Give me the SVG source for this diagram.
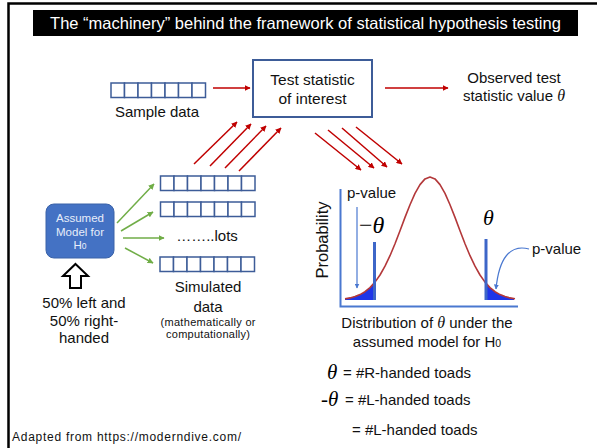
<svg xmlns="http://www.w3.org/2000/svg" width="597" height="448" viewBox="0 0 597 448">
<defs>
<style>
.t{font-family:"Liberation Sans",Arial,sans-serif;fill:#111}
.th{font-family:"Liberation Serif","Times New Roman",serif;font-style:italic}
.cell{fill:#fff;stroke:#3d5c98;stroke-width:1.5}
.red{stroke:#c00000;stroke-width:1.5;fill:none;marker-end:url(#ar)}
.grn{stroke:#70ad47;stroke-width:1.5;fill:none;marker-end:url(#ag)}
.blu{stroke:#4a78d0;stroke-width:1.2;fill:none;marker-end:url(#ab)}
</style>
<marker id="ar" viewBox="0 0 10 10" refX="9" refY="5" markerWidth="6" markerHeight="6" markerUnits="userSpaceOnUse" orient="auto"><path d="M0,0 L10,5 L0,10 Z" fill="#c00000"/></marker>
<marker id="ag" viewBox="0 0 10 10" refX="9" refY="5" markerWidth="6" markerHeight="6" markerUnits="userSpaceOnUse" orient="auto"><path d="M0,0 L10,5 L0,10 Z" fill="#70ad47"/></marker>
<marker id="ab" viewBox="0 0 10 10" refX="9" refY="5" markerWidth="5" markerHeight="5" markerUnits="userSpaceOnUse" orient="auto"><path d="M0,0 L10,5 L0,10 Z" fill="#4a78d0"/></marker>
<g id="arr7">
<rect class="cell" x="0" y="0" width="13.5" height="14.5"/>
<rect class="cell" x="13.5" y="0" width="13.5" height="14.5"/>
<rect class="cell" x="27" y="0" width="13.5" height="14.5"/>
<rect class="cell" x="40.5" y="0" width="13.5" height="14.5"/>
<rect class="cell" x="54" y="0" width="13.5" height="14.5"/>
<rect class="cell" x="67.5" y="0" width="13.5" height="14.5"/>
<rect class="cell" x="81" y="0" width="13.5" height="14.5"/>
</g>
</defs>
<rect width="597" height="448" fill="#fff"/>
<path d="M8.5,448 V3.5 H597" fill="none" stroke="#000" stroke-width="2.5"/>

<g id="title">
<rect x="33" y="10" width="545" height="26" fill="#000"/>
<text class="t" x="305.5" y="28.5" font-size="16.5" style="fill:#fff" text-anchor="middle">The “machinery” behind the framework of statistical hypothesis testing</text>
</g>

<g id="sample">
<use href="#arr7" x="111" y="83"/>
<text class="t" x="157" y="117" font-size="15" text-anchor="middle">Sample data</text>
</g>

<g id="teststat">
<rect x="253" y="60" width="119" height="57" fill="#fff" stroke="#3d5c98" stroke-width="2"/>
<text class="t" x="312.5" y="85" font-size="15.5" text-anchor="middle">Test statistic</text>
<text class="t" x="312.5" y="104" font-size="15.5" text-anchor="middle">of interest</text>
</g>

<g id="observed">
<text class="t" x="514" y="83" font-size="15" text-anchor="middle">Observed test</text>
<text class="t" x="514" y="101" font-size="15" text-anchor="middle">statistic value <tspan class="th" font-size="16">θ</tspan></text>
</g>

<g id="model">
<rect x="46" y="204" width="68" height="54" rx="8" fill="#4472c4" stroke="#3a62a8" stroke-width="1"/>
<text class="t" x="80" y="222" font-size="11.5" style="fill:#e8eefa" text-anchor="middle">Assumed</text>
<text class="t" x="80" y="235.5" font-size="11.5" style="fill:#e8eefa" text-anchor="middle">Model for</text>
<text class="t" x="80" y="249" font-size="11.5" style="fill:#e8eefa" text-anchor="middle">H<tspan font-size="8.5">0</tspan></text>
</g>

<g id="assumption">
<polygon points="75.5,264 88,276 81,276 81,288 70,288 70,276 63,276" fill="#fff" stroke="#000" stroke-width="2" stroke-linejoin="miter"/>
<text class="t" x="84" y="308" font-size="15" text-anchor="middle">50% left and</text>
<text class="t" x="84" y="326" font-size="15" text-anchor="middle">50% right-</text>
<text class="t" x="84" y="343" font-size="15" text-anchor="middle">handed</text>
</g>

<g id="simulated">
<use href="#arr7" x="160.5" y="176"/>
<use href="#arr7" x="160.5" y="202"/>
<text class="t" x="207" y="241" font-size="15" text-anchor="middle">……..lots</text>
<use href="#arr7" x="160" y="257"/>
<text class="t" x="208" y="292" font-size="15" text-anchor="middle">Simulated</text>
<text class="t" x="208" y="312" font-size="15" text-anchor="middle">data</text>
<text class="t" x="208" y="326" font-size="11" text-anchor="middle" textLength="95">(mathematically or</text>
<text class="t" x="208" y="338" font-size="11" text-anchor="middle" textLength="84">computationally)</text>
</g>

<g id="distribution">
<path d="M345,300 L345,298.8 350,297.9 355,296.6 360,294.6 365,291.7 370,287.6 374,283.4 L374,300 Z" fill="#1f35e8"/>
<path d="M486,300 L486,283.4 490,287.6 495,291.7 500,294.6 505,296.6 510,297.9 514,298.8 L514,300 Z" fill="#1f35e8"/>
<polyline fill="none" stroke="#b3383a" stroke-width="1.6" stroke-linejoin="round" points="345,298.8 350,297.9 355,296.6 360,294.6 365,291.7 370,287.6 375,282.1 380,275 385,266.2 390,255.7 395,243.7 400,230.7 405,217.4 410,204.7 415,193.4 420,184.6 425,178.9 430,177 435,178.9 440,184.6 445,193.4 450,204.7 455,217.4 460,230.7 465,243.7 470,255.7 475,266.2 480,275 485,282.1 490,287.6 495,291.7 500,294.6 505,296.6 510,297.9 515,298.8"/>
<path d="M340.5,189 V306.5 H518" fill="none" stroke="#4a78d0" stroke-width="2"/>
<line x1="374.5" y1="242" x2="374.5" y2="300" stroke="#3d66c8" stroke-width="3"/>
<line x1="486" y1="239" x2="486" y2="300" stroke="#3d66c8" stroke-width="3"/>
<text class="t" x="322" y="240" font-size="16.5" text-anchor="middle" transform="rotate(-90 322 240)" dy="6">Probability</text>
<text class="t" x="347" y="198" font-size="15">p-value</text>
<line class="blu" x1="357" y1="207" x2="357" y2="288"/>
<text x="359" y="233" font-size="24" font-family="Liberation Serif,serif"><tspan>−</tspan><tspan class="th">θ</tspan></text>
<text class="th" x="483" y="225" font-size="22">θ</text>
<text class="t" x="532" y="254" font-size="15">p-value</text>
<path class="blu" d="M529,249 C510,244 499,258 496,289"/>
<text class="t" x="427" y="328" font-size="15" text-anchor="middle">Distribution of <tspan class="th" font-size="16">θ</tspan> under the</text>
<text class="t" x="427" y="347" font-size="15" text-anchor="middle">assumed model for H<tspan font-size="10.5">0</tspan></text>
</g>

<g id="connectors">
<line class="red" x1="213" y1="88" x2="250" y2="88"/>
<line class="red" x1="385" y1="88" x2="448" y2="88"/>
<line class="red" x1="194" y1="164" x2="237" y2="122"/>
<line class="red" x1="210" y1="166" x2="251" y2="124"/>
<line class="red" x1="225" y1="168" x2="266" y2="126"/>
<line class="red" x1="239" y1="171" x2="281" y2="128"/>
<line class="red" x1="315" y1="133" x2="361" y2="170"/>
<line class="red" x1="328" y1="130" x2="374" y2="168"/>
<line class="red" x1="342" y1="128" x2="387" y2="167"/>
<line class="red" x1="356" y1="127" x2="402" y2="164"/>
<line class="grn" x1="117" y1="223" x2="154" y2="184"/>
<line class="grn" x1="121" y1="231" x2="153" y2="212"/>
<line class="grn" x1="123" y1="238" x2="164" y2="238"/>
<line class="grn" x1="125" y1="248" x2="153" y2="263"/>
</g>

<g id="legend">
<text x="327" y="379" font-size="21" class="th">θ</text>
<text class="t" x="343" y="378" font-size="15">= #R-handed toads</text>
<text x="321" y="406" font-size="21" font-family="Liberation Serif,serif">-<tspan class="th">θ</tspan></text>
<text class="t" x="345" y="405" font-size="15">= #L-handed toads</text>
<text class="t" x="352" y="435" font-size="15">= #L-handed toads</text>
</g>

<text class="t" x="12" y="441" font-size="12" textLength="229">Adapted from https://moderndive.com/</text>
</svg>
